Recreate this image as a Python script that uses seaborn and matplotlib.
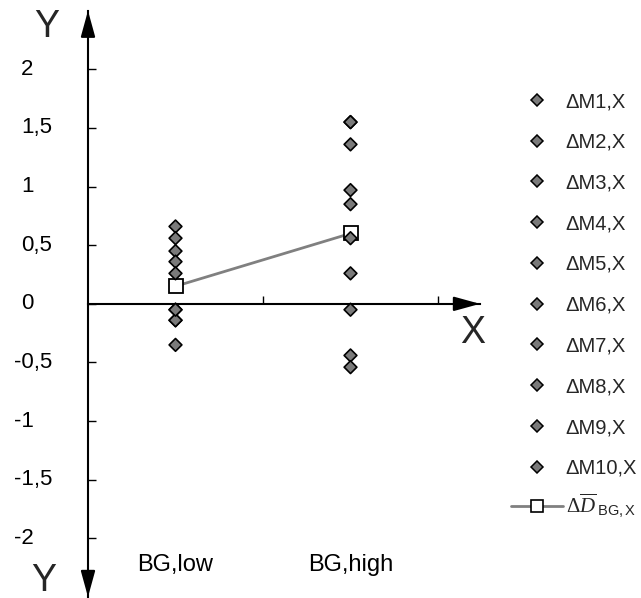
import matplotlib
matplotlib.use('Agg')
import matplotlib.pyplot as plt
import matplotlib.transforms as mtransforms
import seaborn as sns
import pandas as pd
from matplotlib.lines import Line2D

# ---- data ----
categories = ['BG,low', 'BG,high']
series_names = ['ΔM1,X', 'ΔM2,X', 'ΔM3,X', 'ΔM4,X', 'ΔM5,X',
                'ΔM6,X', 'ΔM7,X', 'ΔM8,X', 'ΔM9,X', 'ΔM10,X']
m_low = [0.66, 0.56, 0.45, 0.36, 0.26, -0.05, -0.14, -0.35, -0.14, -0.05]
m_high = [1.55, 1.36, 0.97, 0.85, 0.56, 0.26, -0.05, -0.44, -0.54, 1.55]
mean_values = [0.15, 0.60]
mean_label = r'$\Delta\overline{D}_{\;\mathsf{BG,X}}$'
y_ticks = [-2, -1.5, -1, -0.5, 0, 0.5, 1, 1.5, 2]
y_tick_labels = ['-2', '-1,5', '-1', '-0,5', '0', '0,5', '1', '1,5', '2']
x_ticks = [0.5, 1.5]

# ---- style ----
sns.set_theme(style='white')
plt.rcParams['font.family'] = ['Liberation Sans', 'DejaVu Sans']
plt.rcParams['mathtext.fontset'] = 'custom'
plt.rcParams['mathtext.rm'] = 'Liberation Serif'
plt.rcParams['mathtext.it'] = 'Liberation Serif:italic'
plt.rcParams['mathtext.sf'] = 'Liberation Sans'

W, H = 641, 598
fig = plt.figure(figsize=(W / 100, H / 100), dpi=100)
ax = fig.add_axes([88 / W, 1 - 597 / H, (480 - 88) / W, (597 - 10.7) / H])

df = pd.DataFrame({
    'series': series_names * 2,
    'category': [categories[0]] * len(m_low) + [categories[1]] * len(m_high),
    'value': m_low + m_high,
})

diamond_fill = '#7a7a7a'
sns.stripplot(data=df, x='category', y='value', hue='series',
              palette=[diamond_fill] * len(series_names), marker='D',
              size=6.5, jitter=False, dodge=False, edgecolor='black',
              linewidth=1.2, ax=ax, legend=False, zorder=3)

ax.plot(range(len(categories)), mean_values, color='#808080', lw=2,
        marker='s', ms=10, mfc='white', mec='black', mew=1.3, zorder=2)

ax.set_xlim(-0.5, 1.74)
ax.set_ylim(-2.5, 2.5)
ax.set_xlabel('')
ax.set_ylabel('')

for s in ['top', 'right']:
    ax.spines[s].set_visible(False)
ax.spines['bottom'].set_position(('data', 0))
for s in ['left', 'bottom']:
    ax.spines[s].set_color('black')
    ax.spines[s].set_linewidth(1.5)

ax.set_yticks(y_ticks)
ax.set_yticklabels([])
ax.tick_params(axis='y', left=True, direction='in', length=6, width=1,
               color='black')
ax.set_xticks(x_ticks)
ax.set_xticklabels([])
ax.tick_params(axis='x', bottom=True, direction='in', length=6, width=1,
               color='black')

# y tick labels: left aligned, minus sign hanging to the left
ytrans = mtransforms.blended_transform_factory(fig.transFigure, ax.transData)
for v, lab in zip(y_ticks, y_tick_labels):
    x0 = 21 / W if not lab.startswith('-') else 14 / W
    fig.text(x0, v, lab, transform=ytrans, ha='left', va='center',
             fontsize=16, color='black')

# category labels
for i, c in enumerate(categories):
    ax.text(i, -2.23, c, ha='center', va='center', fontsize=17, color='black')

# arrow heads
akw = dict(arrowstyle='-|>,head_length=0.8,head_width=0.22', color='black',
           lw=1.5, mutation_scale=20, shrinkA=0, shrinkB=0)
ax.annotate('', xy=(0, 1), xycoords='axes fraction', xytext=(0, -16),
            textcoords='offset points', arrowprops=akw, annotation_clip=False)
ax.annotate('', xy=(0, 0), xycoords='axes fraction', xytext=(0, 16),
            textcoords='offset points', arrowprops=akw, annotation_clip=False)
ax.annotate('', xy=(1, 0), xycoords=('axes fraction', 'data'), xytext=(-16, 0),
            textcoords='offset points', arrowprops=akw, annotation_clip=False)

# axis letters
fig.text(47 / W, 1 - 27 / H, 'Y', fontsize=27, ha='center', va='center')
fig.text(44 / W, 1 - 581 / H, 'Y', fontsize=27, ha='center', va='center')
fig.text(473 / W, 1 - 333 / H, 'X', fontsize=27, ha='center', va='center')

# legend: the ten series
handles = [Line2D([], [], ls='none', marker='D', ms=6.5, mfc=diamond_fill,
                  mec='black', mew=1.1) for _ in series_names]
leg_kw = dict(frameon=False, fontsize=14.5, handlelength=2.6,
              handletextpad=0.12, borderaxespad=0, borderpad=0)
leg1 = fig.legend(handles, series_names, loc='upper left',
                  bbox_to_anchor=(511 / W, 1 - 92 / H), labelspacing=1.08,
                  **leg_kw)
# legend: the mean line
mean_handle = Line2D([], [], color='#808080', lw=2, marker='s', ms=8,
                     mfc='white', mec='black', mew=1.2)
leg2 = fig.legend([mean_handle], [mean_label], loc='center left',
                  bbox_to_anchor=(511 / W, 1 - 506 / H), **leg_kw)
leg2.get_texts()[0].set_fontsize(15)

fig.savefig('out.png', dpi=100)
